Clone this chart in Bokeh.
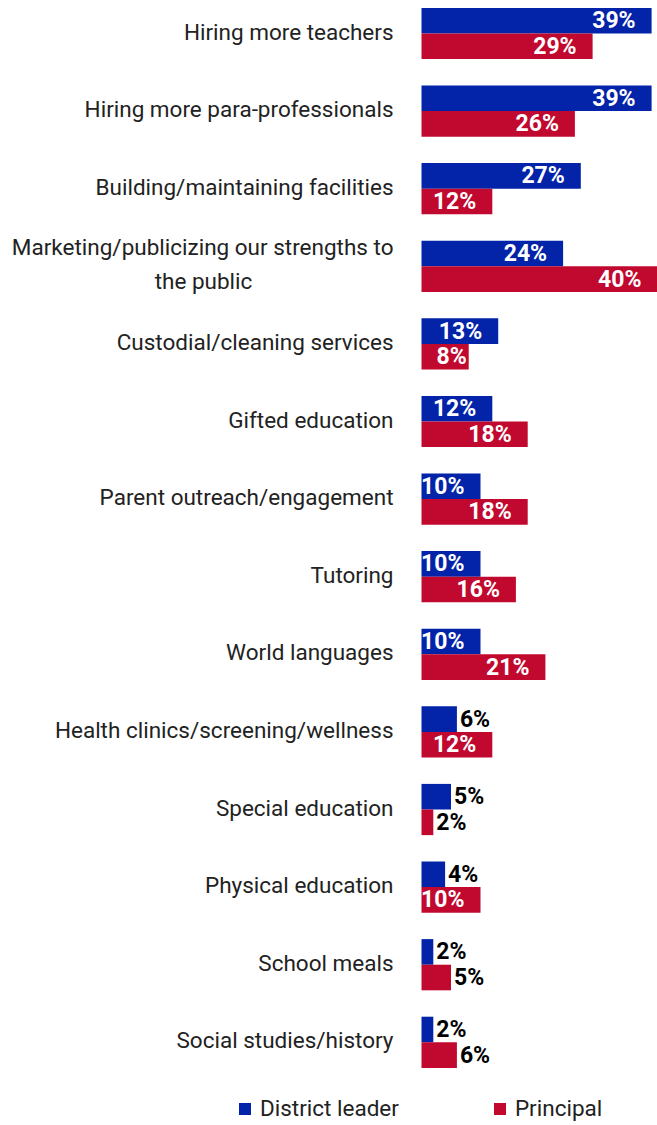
from bokeh.plotting import figure
from bokeh.models import Range1d, Legend, LegendItem, ColumnDataSource
from bokeh.core.properties import value
from bokeh.embed import file_html
from bokeh.resources import INLINE
import numpy as np

categories = [
    "Hiring more teachers",
    "Hiring more para-professionals",
    "Building/maintaining facilities",
    "Marketing/publicizing our strengths to\nthe public",
    "Custodial/cleaning services",
    "Gifted education",
    "Parent outreach/engagement",
    "Tutoring",
    "World languages",
    "Health clinics/screening/wellness",
    "Special education",
    "Physical education",
    "School meals",
    "Social studies/history",
]
district_leader = [39, 39, 27, 24, 13, 12, 10, 10, 10, 6, 5, 4, 2, 2]
principal = [29, 26, 12, 40, 8, 18, 18, 16, 21, 12, 2, 10, 5, 6]
series_names = ["District leader", "Principal"]

BLUE = "#0323A8"
RED = "#C1082F"
FONT = "Roboto"
BAR_H = 0.33
INSIDE_MIN = 7
LABEL_PAD = 28
LINE_GAP = 17
LABEL_LIFT = 2

idx = np.arange(len(categories), dtype=float)

p = figure(width=657, height=1125, x_range=Range1d(-71.36, 40),
           y_range=Range1d(14.072, -0.4253),
           x_axis_location=None, y_axis_location=None,
           output_backend="svg", toolbar_location=None,
           min_border=0, min_border_left=0, min_border_right=0,
           min_border_top=0, min_border_bottom=0)
p.grid.visible = False
p.outline_line_color = None

renderers = []
for k, (vals, col) in enumerate([(district_leader, BLUE), (principal, RED)]):
    vals = np.array(vals, dtype=float)
    yy = idx - BAR_H / 2 if k == 0 else idx + BAR_H / 2
    src = ColumnDataSource(dict(y=yy, v=vals))
    r = p.hbar(y="y", left=0, right="v", height=BAR_H, source=src,
               fill_color=col, line_color=None)
    renderers.append(r)

    inside = vals >= INSIDE_MIN
    ins = ColumnDataSource(dict(
        y=yy[inside], v=vals[inside],
        lab=[f"{int(v)}%" for v in vals[inside]],
        off=[-16 if v >= 10 else -2 for v in vals[inside]]))
    p.text(x="v", y="y", text="lab", source=ins, x_offset="off",
           text_align="right", text_baseline="middle",
           text_color="white", text_font=value(FONT),
           text_font_style="bold", text_font_size="23px")
    outs = ColumnDataSource(dict(
        y=yy[~inside], v=vals[~inside],
        lab=[f"{int(v)}%" for v in vals[~inside]]))
    p.text(x="v", y="y", text="lab", source=outs, x_offset=3,
           text_align="left", text_baseline="middle",
           text_color="black", text_font=value(FONT),
           text_font_style="bold", text_font_size="23px")

# category labels: first line right-aligned, following line centred under it
first = [c.split("\n")[0] for c in categories]
multi = [("\n" in c) for c in categories]
csrc = ColumnDataSource(dict(y=idx, x=np.zeros_like(idx), lab=first,
                             yo=[(-LINE_GAP if m else 0) - LABEL_LIFT for m in multi]))
p.text(x="x", y="y", text="lab", source=csrc, x_offset=-LABEL_PAD,
       y_offset="yo", text_align="right", text_baseline="middle",
       text_color="#222222", text_font=value(FONT),
       text_font_size="22.5px")
sec_i = [i for i, m in enumerate(multi) if m]
sec = ColumnDataSource(dict(y=idx[sec_i], x=np.zeros(len(sec_i)),
                            lab=[categories[i].split("\n")[1] for i in sec_i]))
p.text(x="x", y="y", text="lab", source=sec, x_offset=-(LABEL_PAD + 190),
       y_offset=LINE_GAP - LABEL_LIFT, text_align="center", text_baseline="middle",
       text_color="#222222", text_font=value(FONT),
       text_font_size="22.5px")

legend = Legend(items=[LegendItem(label=series_names[0], renderers=[renderers[0]]),
                       LegendItem(label=series_names[1], renderers=[renderers[1]])],
                orientation="horizontal", location=(237, 4),
                glyph_width=15, glyph_height=15, label_standoff=8,
                spacing=93, padding=0, margin=0,
                border_line_color=None, background_fill_alpha=0,
                label_text_font=FONT, label_text_font_size="22.5px",
                label_text_color="#222222")
p.add_layout(legend)

open("out.html", "w").write(file_html(p, INLINE))
